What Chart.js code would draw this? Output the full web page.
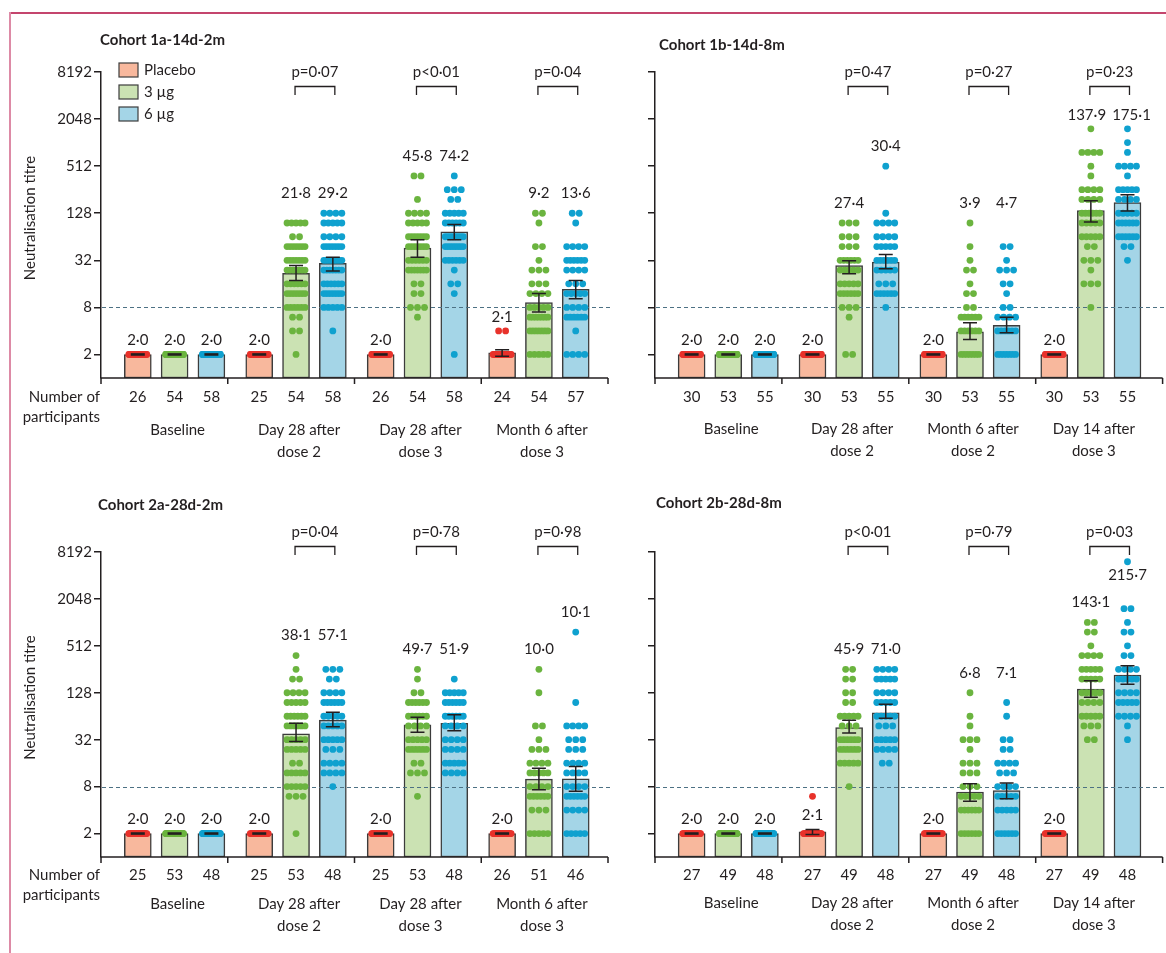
<!DOCTYPE html>
<html>
<head>
<meta charset="utf-8">
<title>Neutralisation titres by cohort</title>
<script src="https://cdn.jsdelivr.net/npm/chart.js@4.4.1/dist/chart.umd.min.js"></script>
<style>
  html, body { margin: 0; padding: 0; background: #fff; }
  body { width: 1166px; height: 953px; position: relative; overflow: hidden; }
  canvas { position: absolute; }
  .rule-top { position: absolute; left: 9px; top: 12px; width: 1157px; height: 2px; background: #c4456d; }
  .rule-left { position: absolute; left: 9px; top: 12px; width: 2px; height: 941px; background: #dd8aa6; }
</style>
</head>
<body>
<div class="rule-top"></div>
<div class="rule-left"></div>
<canvas id="c1a" width="600" height="460" style="left:12px;top:20px"></canvas>
<canvas id="c1b" width="566" height="460" style="left:600px;top:20px"></canvas>
<canvas id="c2a" width="600" height="473" style="left:12px;top:480px"></canvas>
<canvas id="c2b" width="566" height="473" style="left:600px;top:480px"></canvas>
<script>
// ---- data ----
// every group: [placebo, 3 µg, 6 µg]
var yTicks = [2, 8, 32, 128, 512, 2048, 8192];
var arms = ['Placebo', '3 µg', '6 µg'];

// Cohort 1a-14d-2m
var c1aGroups = [['Baseline'], ['Day 28 after', 'dose 2'], ['Day 28 after', 'dose 3'], ['Month 6 after', 'dose 3']];
var c1aN   = [[26, 54, 58], [25, 54, 58], [26, 54, 58], [24, 54, 57]];
var c1aGmt = [[2.0, 2.0, 2.0], [2.0, 21.8, 29.2], [2.0, 45.8, 74.2], [2.1, 9.2, 13.6]];
var c1aLo  = [[2, 2, 2], [2, 17.6, 23.3], [2, 35, 58.5], [1.9, 7.0, 10.3]];
var c1aHi  = [[2, 2, 2], [2, 27.5, 35], [2, 58.5, 91.7], [2.3, 12.0, 17.6]];
var c1aP   = ['p=0·07', 'p<0·01', 'p=0·04'];
// individual titres: [titre, how many]
var c1aDots = [
  [[[2, 26]], [[2, 54]], [[2, 58]]],
  [[[2, 25]],
   [[96, 5], [64, 2], [48, 7], [32, 7], [24, 7], [16, 6], [12, 7], [8, 6], [6, 2], [4, 2], [2, 1]],
   [[128, 4], [96, 5], [64, 4], [48, 7], [32, 8], [24, 7], [16, 6], [12, 7], [8, 5], [4, 1]]],
  [[[2, 26]],
   [[384, 2], [192, 1], [128, 4], [96, 5], [64, 7], [48, 7], [32, 6], [24, 7], [16, 2], [12, 2], [8, 3], [6, 1]],
   [[384, 1], [256, 3], [192, 2], [128, 5], [96, 6], [64, 8], [48, 8], [32, 6], [24, 1], [16, 2], [12, 1], [2, 1]]],
  [[[4, 2], [2, 22]],
   [[128, 2], [96, 1], [48, 2], [32, 1], [24, 3], [16, 3], [12, 4], [8, 5], [6, 7], [4, 7], [2, 5]],
   [[128, 2], [96, 1], [48, 4], [32, 6], [24, 4], [16, 3], [12, 5], [8, 4], [6, 6], [4, 1], [2, 4]]]
];

// Cohort 1b-14d-8m
var c1bGroups = [['Baseline'], ['Day 28 after', 'dose 2'], ['Month 6 after', 'dose 2'], ['Day 14 after', 'dose 3']];
var c1bN   = [[30, 53, 55], [30, 53, 55], [30, 53, 55], [30, 53, 55]];
var c1bGmt = [[2.0, 2.0, 2.0], [2.0, 27.4, 30.4], [2.0, 3.9, 4.7], [2.0, 137.9, 175.1]];
var c1bLo  = [[2, 2, 2], [2, 21.5, 24.9], [2, 3.1, 3.8], [2, 99, 137]];
var c1bHi  = [[2, 2, 2], [2, 31.5, 38], [2, 5.1, 6], [2, 185, 220]];
var c1bP   = ['p=0·47', 'p=0·27', 'p=0·23'];
var c1bDots = [
  [[[2, 30]], [[2, 53]], [[2, 55]]],
  [[[2, 30]],
   [[96, 3], [64, 3], [48, 3], [32, 6], [24, 5], [16, 5], [12, 6], [8, 3], [6, 1], [2, 2]],
   [[512, 1], [128, 1], [96, 4], [64, 4], [48, 5], [32, 6], [24, 5], [16, 3], [12, 6], [8, 1]]],
  [[[2, 30]],
   [[96, 1], [48, 1], [32, 1], [24, 2], [16, 1], [12, 2], [8, 2], [6, 6], [4, 6], [2, 7]],
   [[48, 2], [32, 1], [24, 3], [16, 2], [12, 1], [8, 2], [6, 4], [4, 6], [2, 7]]],
  [[[2, 30]],
   [[1536, 1], [768, 4], [512, 1], [384, 1], [256, 4], [192, 4], [128, 6], [96, 5], [64, 5], [48, 2], [32, 3], [24, 1], [16, 3], [8, 1]],
   [[1536, 1], [1024, 1], [768, 1], [512, 4], [384, 1], [256, 5], [192, 4], [128, 5], [96, 6], [64, 6], [48, 2], [32, 1]]]
];

// Cohort 2a-28d-2m
var c2aGroups = [['Baseline'], ['Day 28 after', 'dose 2'], ['Day 28 after', 'dose 3'], ['Month 6 after', 'dose 3']];
var c2aN   = [[25, 53, 48], [25, 53, 48], [25, 53, 48], [26, 51, 46]];
var c2aGmt = [[2.0, 2.0, 2.0], [2.0, 38.1, 57.1], [2.0, 49.7, 51.9], [2.0, 10.0, 10.1]];
var c2aLo  = [[2, 2, 2], [2, 30.3, 47], [2, 40, 41.6], [2, 7.3, 7]];
var c2aHi  = [[2, 2, 2], [2, 52, 72], [2, 62, 67], [2, 13.8, 14.5]];
var c2aP   = ['p=0·04', 'p=0·78', 'p=0·98'];
var c2aDots = [
  [[[2, 25]], [[2, 53]], [[2, 48]]],
  [[[2, 25]],
   [[384, 1], [256, 1], [192, 2], [128, 4], [96, 5], [64, 6], [48, 6], [32, 5], [24, 5], [16, 2], [12, 5], [8, 5], [6, 3], [2, 1]],
   [[256, 3], [192, 2], [128, 4], [96, 6], [64, 5], [48, 5], [32, 5], [24, 3], [16, 4], [12, 4], [8, 1]]],
  [[[2, 25]],
   [[256, 1], [192, 1], [128, 2], [96, 6], [64, 6], [48, 4], [32, 5], [24, 6], [16, 2], [12, 3], [6, 1]],
   [[192, 1], [128, 5], [96, 6], [64, 6], [48, 4], [32, 4], [24, 4], [16, 5], [12, 4]]],
  [[[2, 26]],
   [[256, 1], [128, 1], [48, 2], [32, 1], [24, 3], [16, 4], [12, 5], [8, 4], [6, 6], [4, 3], [2, 5]],
   [[768, 1], [96, 1], [48, 4], [32, 3], [24, 3], [16, 4], [12, 4], [8, 4], [6, 6], [4, 4], [2, 5]]]
];

// Cohort 2b-28d-8m
var c2bGroups = [['Baseline'], ['Day 28 after', 'dose 2'], ['Month 6 after', 'dose 2'], ['Day 14 after', 'dose 3']];
var c2bN   = [[27, 49, 48], [27, 49, 48], [27, 49, 48], [27, 49, 48]];
var c2bGmt = [[2.0, 2.0, 2.0], [2.1, 45.9, 71.0], [2.0, 6.8, 7.1], [2.0, 143.1, 215.7]];
var c2bLo  = [[2, 2, 2], [1.95, 39, 60.5], [2, 5.2, 5.6], [2, 112, 165]];
var c2bHi  = [[2, 2, 2], [2.25, 57, 91], [2, 8.7, 8.9], [2, 182, 284]];
var c2bP   = ['p<0·01', 'p=0·79', 'p=0·03'];
var c2bDots = [
  [[[2, 27]], [[2, 49]], [[2, 48]]],
  [[[6, 1], [2, 26]],
   [[256, 2], [192, 2], [128, 2], [96, 2], [64, 5], [48, 3], [32, 6], [24, 6], [16, 5], [8, 1]],
   [[256, 4], [192, 5], [128, 4], [96, 5], [64, 5], [48, 3], [32, 5], [24, 4], [16, 2]]],
  [[[2, 27]],
   [[128, 1], [64, 1], [48, 1], [32, 3], [24, 1], [16, 3], [12, 3], [8, 3], [6, 5], [4, 6], [2, 6]],
   [[96, 1], [64, 1], [32, 2], [24, 2], [16, 4], [12, 3], [8, 4], [6, 5], [4, 5], [2, 6]]],
  [[[2, 27]],
   [[1024, 2], [768, 2], [512, 1], [384, 4], [256, 5], [192, 5], [128, 5], [96, 4], [64, 5], [48, 3], [32, 2]],
   [[6144, 1], [1536, 2], [1024, 1], [768, 2], [512, 1], [384, 2], [256, 4], [192, 5], [128, 4], [96, 5], [64, 4], [48, 1], [32, 1]]]
];

// ---- look ----
var INK = '#231f20';
var barFill = ['#f8b89d', '#cbe2b3', '#a4d5e7'];
var dotFill = ['#e8322b', '#6bb43f', '#0fa1cf'];
var FONT = 'Lato, "Open Sans", sans-serif';
var SLOT_PX = 36.8;   // distance between neighbouring bars

function barX(g, b) { return 1 + g * 3.3 + b; }
function fmt(v) { return v.toFixed(1).replace('.', '·'); }

var panels = [
  { id: 'c1a', title: 'Cohort 1a-14d-2m', groups: c1aGroups, n: c1aN, gmt: c1aGmt, lo: c1aLo, hi: c1aHi, p: c1aP, dots: c1aDots,
    labels: true, legend: true, axisW: 89, pad: { top: 52, right: 4, bottom: 102 }, titleX: 88, titleY: 20, nOff: 19, gOff: 52 },
  { id: 'c1b', title: 'Cohort 1b-14d-8m', groups: c1bGroups, n: c1bN, gmt: c1bGmt, lo: c1bLo, hi: c1bHi, p: c1bP, dots: c1bDots,
    labels: false, legend: false, axisW: 55, pad: { top: 52, right: 1, bottom: 102 }, titleX: 59, titleY: 25, nOff: 19, gOff: 51 },
  { id: 'c2a', title: 'Cohort 2a-28d-2m', groups: c2aGroups, n: c2aN, gmt: c2aGmt, lo: c2aLo, hi: c2aHi, p: c2aP, dots: c2aDots,
    labels: true, legend: false, axisW: 89, pad: { top: 72, right: 4, bottom: 96 }, titleX: 86, titleY: 25, nOff: 18, gOff: 47 },
  { id: 'c2b', title: 'Cohort 2b-28d-8m', groups: c2bGroups, n: c2bN, gmt: c2bGmt, lo: c2bLo, hi: c2bHi, p: c2bP, dots: c2bDots,
    labels: false, legend: false, axisW: 55, pad: { top: 72, right: 1, bottom: 96 }, titleX: 56, titleY: 23, nOff: 18, gOff: 46 }
];

function spreadDots(P, b) {
  var out = [];
  P.dots.forEach(function (grp, g) {
    grp[b].forEach(function (d) {
      var c = d[1];
      var step = c > 1 ? Math.min(7, 18 / (c - 1)) : 0;
      for (var i = 0; i < c; i++) {
        out.push({ x: barX(g, b) + (i - (c - 1) / 2) * step / SLOT_PX, y: d[0] });
      }
    });
  });
  return out;
}

function makeOverlay(P) {
  var dashDone = false;
  return {
    id: 'overlay',
    beforeDatasetsDraw: function () { dashDone = false; },
    beforeDatasetDraw: function (chart, args) {
      if (dashDone || args.meta.type !== 'scatter') return;
      dashDone = true;
      var ctx = chart.ctx, a = chart.chartArea;
      var yy = Math.round(chart.scales.y.getPixelForValue(8)) + 0.5;
      ctx.save();
      ctx.setLineDash([4, 3]);
      ctx.strokeStyle = '#4d7184';
      ctx.lineWidth = 1.2;
      ctx.beginPath(); ctx.moveTo(a.left + 1, yy); ctx.lineTo(a.right + 2, yy); ctx.stroke();
      ctx.restore();
    },
    afterDatasetsDraw: function (chart) {
      var ctx = chart.ctx, a = chart.chartArea, xs = chart.scales.x, ys = chart.scales.y;
      function px(g, b) { return xs.getPixelForValue(barX(g, b)); }
      ctx.save();
      ctx.strokeStyle = INK; ctx.fillStyle = INK;

      // x axis with group separators
      ctx.lineWidth = 1.5;
      ctx.beginPath();
      ctx.moveTo(a.left - 0.75, a.bottom); ctx.lineTo(a.right, a.bottom);
      for (var k = 0; k <= 4; k++) {
        var tx = xs.getPixelForValue(k * P.xMax / 4);
        ctx.moveTo(tx, a.bottom); ctx.lineTo(tx, a.bottom + 6);
      }
      ctx.stroke();

      // 95% CI bars
      P.groups.forEach(function (_, g) {
        [0, 1, 2].forEach(function (b) {
          var x = px(g, b), yl = ys.getPixelForValue(P.lo[g][b]), yh = ys.getPixelForValue(P.hi[g][b]);
          var flat = Math.abs(yl - yh) < 1;
          ctx.lineWidth = flat ? 2.6 : 1.5;
          ctx.beginPath();
          ctx.moveTo(x - 7, yh); ctx.lineTo(x + 7, yh);
          if (!flat) {
            ctx.moveTo(x, yh); ctx.lineTo(x, yl);
            ctx.moveTo(x - 7, yl); ctx.lineTo(x + 7, yl);
          }
          ctx.stroke();
        });
      });

      ctx.font = '15px ' + FONT;
      ctx.textAlign = 'center';
      ctx.textBaseline = 'middle';

      // GMT labels above each column of dots
      P.groups.forEach(function (_, g) {
        var ly = [0, 1, 2].map(function (b) {
          var pool = P.dots[g][b];
          if (b === 0) {
            var many = pool.filter(function (d) { return d[1] > 1; });
            if (many.length) pool = many;
          }
          var top = Math.max(P.hi[g][b], Math.max.apply(null, pool.map(function (d) { return d[0]; })));
          var off = (b === 0 || top <= 2) ? 14 : 20;
          return ys.getPixelForValue(top) - off;
        });
        if (Math.abs(ly[1] - ly[2]) < 30) { ly[1] = ly[2] = Math.min(ly[1], ly[2]); }
        ly[1] = Math.max(ly[1], 95); ly[2] = Math.max(ly[2], 95);
        var lx = [0, 1, 2].map(function (b) { return px(g, b); });
        var t1 = fmt(P.gmt[g][1]), t2 = fmt(P.gmt[g][2]);
        if (Math.abs(ly[1] - ly[2]) < 14) {
          var need = (ctx.measureText(t1).width + ctx.measureText(t2).width) / 2 + 6;
          var gap = lx[2] - lx[1];
          if (gap < need) { lx[1] -= (need - gap) / 2; lx[2] += (need - gap) / 2; }
        }
        [0, 1, 2].forEach(function (b) { ctx.fillText(fmt(P.gmt[g][b]), lx[b], ly[b]); });
      });

      // p-value brackets
      ctx.lineWidth = 1.3;
      P.p.forEach(function (txt, i) {
        var g = i + 1, x1 = px(g, 1) - 1, x2 = px(g, 2) + 2;
        ctx.beginPath();
        ctx.moveTo(x1, 75); ctx.lineTo(x1, 66.5); ctx.lineTo(x2, 66.5); ctx.lineTo(x2, 75);
        ctx.stroke();
        ctx.fillText(txt, (x1 + x2) / 2, 52);
      });

      // participants and time points
      P.groups.forEach(function (lines, g) {
        [0, 1, 2].forEach(function (b) { ctx.fillText(String(P.n[g][b]), px(g, b), a.bottom + P.nOff); });
        lines.forEach(function (t, j) { ctx.fillText(t, px(g, 1) + 3, a.bottom + P.gOff + j * 22); });
      });

      if (P.labels) {
        ctx.textAlign = 'right';
        ctx.fillText('Number of', a.left - 1, a.bottom + P.nOff);
        ctx.fillText('participants', a.left - 1, a.bottom + P.nOff + 20);
        ctx.save();
        ctx.translate(18, (a.top + a.bottom) / 2 - 7);
        ctx.rotate(-Math.PI / 2);
        ctx.textAlign = 'center';
        ctx.fillText('Neutralisation titre', 0, 0);
        ctx.restore();
      }

      // panel title
      ctx.textAlign = 'left';
      ctx.font = 'bold 15px ' + FONT;
      ctx.fillText(P.title, P.titleX, P.titleY);

      // legend
      if (P.legend) {
        ctx.font = '15px ' + FONT;
        arms.forEach(function (name, b) {
          var by = 43 + b * 22;
          ctx.fillStyle = barFill[b];
          ctx.fillRect(107, by, 19, 14);
          ctx.strokeStyle = '#3c3c3c'; ctx.lineWidth = 1.2;
          ctx.strokeRect(107, by, 19, 14);
          ctx.fillStyle = INK;
          ctx.fillText(name, 132, by + 7);
        });
      }
      ctx.restore();
    }
  };
}

panels.forEach(function (P) {
  var canvas = document.getElementById(P.id);
  P.xMax = (canvas.width - P.pad.right - P.axisW) / SLOT_PX;

  var datasets = [];
  arms.forEach(function (name, b) {
    datasets.push({
      type: 'bar', label: name, order: 2,
      data: P.groups.map(function (_, g) { return { x: barX(g, b), y: P.gmt[g][b] }; }),
      backgroundColor: barFill[b], borderColor: '#3c3c3c', borderWidth: 1.5,
      borderSkipped: false, barThickness: 27, grouped: false
    });
  });
  arms.forEach(function (name, b) {
    datasets.push({
      type: 'scatter', label: name + ' titres', order: 1,
      data: spreadDots(P, b),
      backgroundColor: dotFill[b], borderWidth: 0, pointRadius: 3.4, pointHoverRadius: 3.4
    });
  });

  new Chart(canvas, {
    type: 'bar',
    data: { datasets: datasets },
    options: {
      responsive: false,
      animation: false,
      events: [],
      layout: { padding: { left: 0, top: P.pad.top, right: P.pad.right, bottom: P.pad.bottom } },
      plugins: { legend: { display: false }, tooltip: { enabled: false } },
      scales: {
        x: { type: 'linear', display: false, offset: false, min: 0, max: P.xMax },
        y: {
          type: 'logarithmic', min: 1, max: 8192,
          afterBuildTicks: function (scale) { scale.ticks = yTicks.map(function (v) { return { value: v }; }); },
          afterFit: function (scale) { scale.width = P.axisW; },
          grid: { drawOnChartArea: false, drawTicks: true, tickLength: 7, color: INK, lineWidth: 1.5 },
          border: { display: true, color: INK, width: 1.5 },
          ticks: {
            autoSkip: false, padding: 2, color: INK,
            font: { family: FONT, size: 15 },
            callback: function (v) { return P.labels ? String(v) : ''; }
          }
        }
      }
    },
    plugins: [makeOverlay(P)]
  });
});
</script>
</body>
</html>
